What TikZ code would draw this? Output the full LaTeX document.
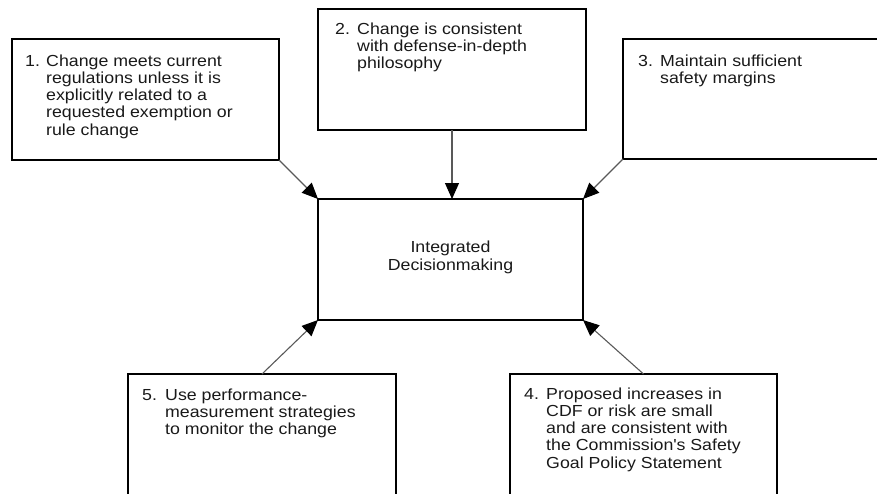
\documentclass[tikz,border=0pt]{standalone}
\usepackage{fontspec}
\setmainfont[FakeStretch=1.11]{Liberation Sans}
\usepackage{tikz}
\usetikzlibrary{calc}
\usetikzlibrary{arrows.meta}

\begin{document}
\begin{tikzpicture}[x=1pt,y=-1pt]

    \tikzstyle{box}=[draw=black,line width=1.8pt,inner sep=0pt,outer sep=0pt,minimum width=267pt,minimum height=121pt,anchor=north west]
    \tikzstyle{box text}=[inner sep=0pt,anchor=base west,text=black!90,font=\fontsize{16}{17.3}\selectfont]
    \tikzstyle{center text}=[inner sep=0pt,align=center,text=black!90,font=\fontsize{16}{17.3}\selectfont]
    \tikzstyle{vector}=[-{Triangle[length=16pt,width=14pt,color=black]},line width=1.1pt,color=black!65]
    \useasboundingbox (0,0) rectangle (877,493);

    % Boxes
    \node[style=box] (b1) at (12,39) {};
    \node[style=box,minimum width=268pt] (b2) at (318,9) {};
    \node[style=box,minimum width=280pt,minimum height=120pt] (b3) at (623,39) {};
    \node[style=box,minimum width=265pt] (dm) at (318,199) {};
    \node[style=box] (b4) at (510,374) {};
    \node[style=box,minimum width=268pt] (b5) at (128,374) {};

    % Texts
    \node[style=box text] (t1) at ($(b1.north west)+(13,27)$)
        {\begin{tabular}[t]{@{}p{21pt}@{}l@{}}
        1. & Change meets current\\
           & regulations unless it is\\
           & explicitly related to a\\
           & requested exemption or\\
           & rule change
        \end{tabular}};
    \node[style=box text] (t2) at ($(b2.north west)+(17,25)$)
        {\begin{tabular}[t]{@{}p{22pt}@{}l@{}}
        2. & Change is consistent\\
           & with defense-in-depth\\
           & philosophy
        \end{tabular}};
    \node[style=box text] (t3) at ($(b3.north west)+(15,27)$)
        {\begin{tabular}[t]{@{}p{22pt}@{}l@{}}
        3. & Maintain sufficient\\
           & safety margins
        \end{tabular}};
    \node[style=box text] (t4) at ($(b4.north west)+(14,25)$)
        {\begin{tabular}[t]{@{}p{22pt}@{}l@{}}
        4. & Proposed increases in\\
           & CDF or risk are small\\
           & and are consistent with\\
           & the Commission\textquotesingle s Safety\\
           & Goal Policy Statement
        \end{tabular}};
    \node[style=box text] (t5) at ($(b5.north west)+(14,26)$)
        {\begin{tabular}[t]{@{}p{23pt}@{}l@{}}
        5. & Use performance-\\
           & measurement strategies\\
           & to monitor the change
        \end{tabular}};
    \node[style=center text,yshift=2pt] (tdm) at (dm.center) {Integrated\\Decisionmaking};

    % Arrows into the decision box
    \draw[style=vector] (b1.south east) -- (dm.north west);
    \draw[style=vector] (b2.south) -- (b2.south |- dm.north);
    \draw[style=vector] (b3.south west) -- (dm.north east);
    \draw[style=vector] (b4.north) -- (dm.south east);
    \draw[style=vector] (b5.north) -- (dm.south west);

\end{tikzpicture}
\end{document}
